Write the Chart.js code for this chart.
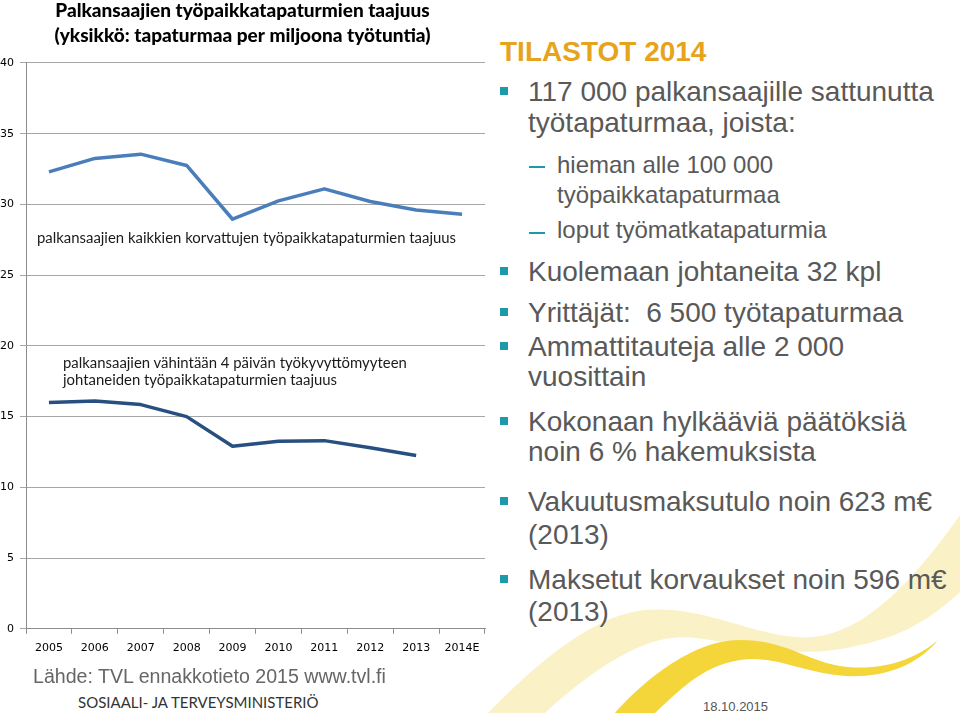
<!DOCTYPE html>
<html lang="fi">
<head>
<meta charset="utf-8">
<title>Palkansaajien työpaikkatapaturmien taajuus</title>
<script src="https://cdn.jsdelivr.net/npm/chart.js@4"></script>
<style>
  html, body { margin: 0; padding: 0; }
  body {
    width: 960px; height: 713px; position: relative; overflow: hidden;
    background: #fff; font-family: "Liberation Sans", Arial, sans-serif;
  }
  #deco { position: absolute; left: 0; top: 0; }
  #chart { position: absolute; left: 0; top: -2px; }
  .note {
    position: absolute; font-family: Lato, sans-serif; font-size: 14.9px;
    line-height: 17.3px; color: #1a1a1a; white-space: nowrap;
  }
  .ln { position: absolute; white-space: nowrap; color: #595959; }
  .m { left: 528px; font-size: 28px; line-height: 28px; }
  .s { left: 557px; font-size: 24px; line-height: 24px; }
  .sq { position: absolute; left: 500px; width: 8px; height: 8px; background: #1c9aa9; }
  .dash { position: absolute; left: 529px; width: 16px; height: 2px; background: #1c9aa9; }
  #head { left: 500px; top: 38px; font-size: 28px; line-height: 28px; font-weight: bold; color: #e6a31c; }
  #source { left: 33px; top: 667px; font-size: 19.6px; line-height: 19px; color: #666; }
  #ministry { left: 78px; top: 695px; font-family: Lato, sans-serif; font-size: 15px; line-height: 15px; color: #333; }
  #date { left: 703px; top: 700px; font-size: 13px; line-height: 13px; color: #555; }
</style>
</head>
<body>

<svg id="deco" width="960" height="713">
  <path d="M 488 713 C 530 670, 590 615, 645 610 C 700 605, 745 632, 795 637 C 850 642, 900 600, 960 515 L 960 592 C 930 620, 900 637, 860 645 C 820 655, 790 652, 757 648 C 720 643, 690 632, 660 640 C 620 650, 575 685, 545 713 Z" fill="#fbf1c6"/>
  <path d="M 615 713 C 640 685, 690 640, 740 640 C 785 640, 805 660, 840 666 C 880 672, 915 660, 938 640 C 915 668, 880 678, 845 676 C 800 672, 775 655, 740 660 C 700 666, 675 695, 655 713 Z" fill="#f4d53a"/>
</svg>

<canvas id="chart" width="490" height="671"></canvas>

<div class="note" style="left:37px; top:229px;">palkansaajien kaikkien korvattujen työpaikkatapaturmien taajuus</div>
<div class="note" style="left:63px; top:354px;">palkansaajien vähintään 4 päivän työkyvyttömyyteen<br>johtaneiden työpaikkatapaturmien taajuus</div>

<div class="ln" id="head">TILASTOT 2014</div>

<div class="sq" style="top:87px;"></div>
<div class="ln m" style="top:78px;">117 000 palkansaajille sattunutta</div>
<div class="ln m" style="top:109px;">työtapaturmaa, joista:</div>
<div class="dash" style="top:166px;"></div>
<div class="ln s" style="top:153px;">hieman alle 100 000</div>
<div class="ln s" style="top:183px;">työpaikkatapaturmaa</div>
<div class="dash" style="top:232px;"></div>
<div class="ln s" style="top:218px;">loput työmatkatapaturmia</div>
<div class="sq" style="top:267px;"></div>
<div class="ln m" style="top:258px;">Kuolemaan johtaneita 32 kpl</div>
<div class="sq" style="top:308px;"></div>
<div class="ln m" style="top:299px;">Yrittäjät:&nbsp; 6 500 työtapaturmaa</div>
<div class="sq" style="top:342px;"></div>
<div class="ln m" style="top:333px;">Ammattitauteja alle 2 000</div>
<div class="ln m" style="top:363px;">vuosittain</div>
<div class="sq" style="top:417px;"></div>
<div class="ln m" style="top:408px;">Kokonaan hylkääviä päätöksiä</div>
<div class="ln m" style="top:438px;">noin 6 % hakemuksista</div>
<div class="sq" style="top:497px;"></div>
<div class="ln m" style="top:488px;">Vakuutusmaksutulo noin 623 m€</div>
<div class="ln m" style="top:521px;">(2013)</div>
<div class="sq" style="top:575px;"></div>
<div class="ln m" style="top:566px;">Maksetut korvaukset noin 596 m€</div>
<div class="ln m" style="top:598px;">(2013)</div>

<div class="ln" id="source">Lähde: TVL ennakkotieto 2015 www.tvl.fi</div>
<div class="ln" id="ministry">SOSIAALI- JA TERVEYSMINISTERIÖ</div>
<div class="ln" id="date">18.10.2015</div>

<script>
// values
const years = ['2005', '2006', '2007', '2008', '2009', '2010', '2011', '2012', '2013', '2014E'];
const kaikkiTaajuus = [32.3, 33.25, 33.55, 32.75, 28.95, 30.25, 31.1, 30.2, 29.6, 29.3];
const vah4pvTaajuus = [16.0, 16.1, 15.85, 15.0, 12.9, 13.25, 13.3, 12.8, 12.25, null];
const yTicks = [0, 5, 10, 15, 20, 25, 30, 35, 40];
const chartTitle = ['Palkansaajien työpaikkatapaturmien taajuus', '(yksikkö: tapaturmaa per miljoona työtuntia)'];

const axisFont = { family: 'DejaVu Sans', size: 11 };

const ctx = document.getElementById('chart').getContext('2d');

new Chart(ctx, {
  type: 'line',
  data: {
    labels: years,
    datasets: [{
      label: 'palkansaajien kaikkien korvattujen työpaikkatapaturmien taajuus',
      data: kaikkiTaajuus,
      borderColor: '#4a7ebb',
      borderWidth: 3.5,
      pointRadius: 0,
      tension: 0,
      borderJoinStyle: 'round'
    }, {
      label: 'palkansaajien vähintään 4 päivän työkyvyttömyyteen johtaneiden työpaikkatapaturmien taajuus',
      data: vah4pvTaajuus,
      borderColor: '#274f80',
      borderWidth: 3.5,
      pointRadius: 0,
      tension: 0,
      borderJoinStyle: 'round'
    }]
  },
  options: {
    responsive: false,
    animation: false,
    layout: { padding: { top: 0, right: 5, bottom: 6, left: 0 } },
    plugins: {
      legend: { display: false },
      tooltip: { enabled: false },
      title: {
        display: true,
        text: chartTitle,
        color: '#000',
        font: { family: 'Lato', size: 19, weight: '900', lineHeight: 1.34 },
        padding: { top: 0, bottom: 14 }
      }
    },
    scales: {
      x: {
        offset: true,
        grid: { offset: true, drawOnChartArea: false, drawTicks: true, tickLength: 5, color: '#8c8c8c' },
        border: { display: true, color: '#8c8c8c' },
        ticks: { font: axisFont, color: '#000', padding: 8, maxRotation: 0, autoSkip: false }
      },
      y: {
        min: yTicks[0],
        max: yTicks[yTicks.length - 1],
        afterFit: scale => { scale.width = 26; },
        afterBuildTicks: scale => { scale.ticks = yTicks.map(v => ({ value: v })); },
        grid: { color: '#a6a6a6', tickLength: 6 },
        border: { display: true, color: '#8c8c8c' },
        ticks: { font: axisFont, color: '#000', padding: 6 }
      }
    }
  }
});
</script>
</body>
</html>
